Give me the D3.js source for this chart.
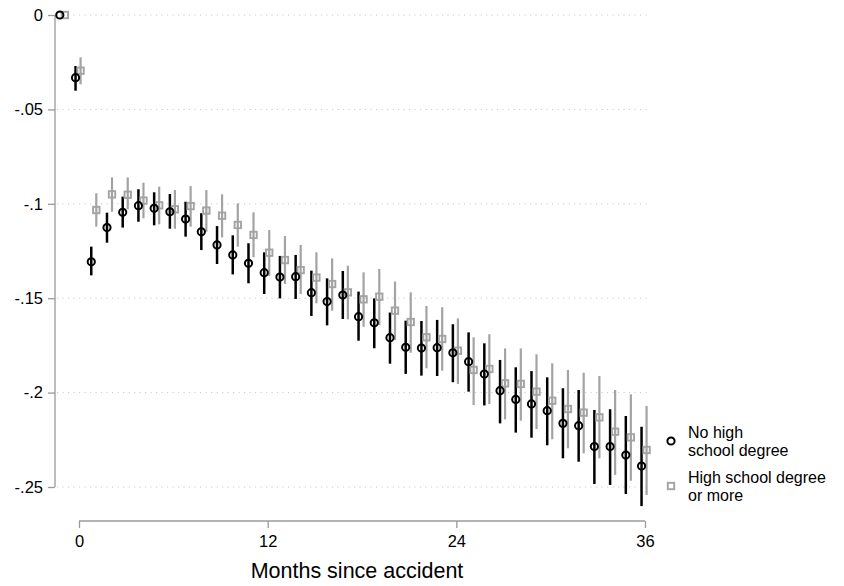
<!DOCTYPE html>
<html><head><meta charset="utf-8">
<script src="https://cdn.jsdelivr.net/npm/d3@7"></script>
<style>
html,body{margin:0;padding:0;background:#fff;}
svg{display:block;font-family:"Liberation Sans",Arial,Helvetica,sans-serif;}
</style></head>
<body>
<svg id="chart" width="844" height="586"></svg>
<script>
const months = [-1,0,1,2,3,4,5,6,7,8,9,10,11,12,13,14,15,16,17,18,19,20,21,22,23,24,25,26,27,28,29,30,31,32,33,34,35,36];

const noHS = [0,-0.0332,-0.1307,-0.1126,-0.1045,-0.1010,-0.1024,-0.1042,-0.1081,-0.1148,-0.1218,-0.1271,-0.1315,-0.1365,-0.1388,-0.1386,-0.1471,-0.1518,-0.1483,-0.1598,-0.1630,-0.1709,-0.1760,-0.1764,-0.1762,-0.1789,-0.1836,-0.1902,-0.1990,-0.2036,-0.2060,-0.2096,-0.2163,-0.2175,-0.2286,-0.2286,-0.2331,-0.2389];
const noHSUpper = [0,-0.0270,-0.1227,-0.1047,-0.0962,-0.0923,-0.0939,-0.0948,-0.0989,-0.1050,-0.1118,-0.1167,-0.1209,-0.1257,-0.1276,-0.1271,-0.1354,-0.1395,-0.1356,-0.1465,-0.1501,-0.1576,-0.1619,-0.1621,-0.1615,-0.1638,-0.1681,-0.1739,-0.1827,-0.1866,-0.1886,-0.1919,-0.1977,-0.1986,-0.2092,-0.2088,-0.2124,-0.2181];
const noHSLower = [0,-0.0401,-0.1379,-0.1206,-0.1126,-0.1095,-0.1114,-0.1132,-0.1174,-0.1245,-0.1319,-0.1374,-0.1421,-0.1478,-0.1501,-0.1504,-0.1594,-0.1644,-0.1610,-0.1725,-0.1765,-0.1847,-0.1901,-0.1910,-0.1912,-0.1945,-0.1995,-0.2068,-0.2163,-0.2212,-0.2239,-0.2279,-0.2348,-0.2366,-0.2484,-0.2489,-0.2537,-0.2601];

const hs = [0,-0.0295,-0.1033,-0.0950,-0.0952,-0.0983,-0.1008,-0.1029,-0.1012,-0.1036,-0.1063,-0.1112,-0.1165,-0.1259,-0.1298,-0.1351,-0.1391,-0.1425,-0.1469,-0.1506,-0.1492,-0.1566,-0.1626,-0.1707,-0.1716,-0.1778,-0.1880,-0.1875,-0.1951,-0.1954,-0.1995,-0.2043,-0.2087,-0.2106,-0.2131,-0.2207,-0.2237,-0.2304];
const hsUpper = [0,-0.0224,-0.0944,-0.0860,-0.0860,-0.0888,-0.0909,-0.0927,-0.0906,-0.0927,-0.0950,-0.0998,-0.1045,-0.1139,-0.1171,-0.1218,-0.1257,-0.1289,-0.1328,-0.1363,-0.1345,-0.1412,-0.1469,-0.1541,-0.1548,-0.1607,-0.1707,-0.1691,-0.1766,-0.1766,-0.1797,-0.1845,-0.1880,-0.1895,-0.1912,-0.1986,-0.2009,-0.2071];
const hsLower = [0,-0.0367,-0.1121,-0.1042,-0.1029,-0.1077,-0.1109,-0.1132,-0.1121,-0.1148,-0.1178,-0.1227,-0.1283,-0.1382,-0.1425,-0.1478,-0.1527,-0.1566,-0.1612,-0.1651,-0.1642,-0.1721,-0.1789,-0.1871,-0.1884,-0.1954,-0.2066,-0.2060,-0.2142,-0.2149,-0.2193,-0.2247,-0.2295,-0.2322,-0.2348,-0.2436,-0.2467,-0.2542];

const xTicks = [0,12,24,36];
const yTicks = [0,-0.05,-0.1,-0.15,-0.2,-0.25];
const yTickLabels = ["0","-.05","-.1","-.15","-.2","-.25"];
const legendLabels = [["No high","school degree"],["High school degree","or more"]];
const xTitle = "Months since accident";

const svg = d3.select("#chart");
const x = d3.scaleLinear().domain([0,36]).range([79,645]);
const y = d3.scaleLinear().domain([0,-0.25]).range([15,487]);
const offNo = -0.22, offHs = 0.1;
const black = "#000", gray = "#a3a3a3", axisCol = "#9a9a9a";

// gridlines
svg.append("g").selectAll("line").data(yTicks).join("line")
  .attr("x1",57).attr("x2",650)
  .attr("y1",d=>y(d)).attr("y2",d=>y(d))
  .attr("stroke","#c8c8c8").attr("stroke-width",1).attr("stroke-dasharray","1.2,4.3");

// y axis
const yAxis = d3.axisLeft(y).tickValues(yTicks).tickSize(7).tickPadding(5)
  .tickFormat((d,i)=>yTickLabels[i]);
const gy = svg.append("g").attr("transform","translate(55,0)").call(yAxis);
gy.select(".domain").attr("stroke",axisCol).attr("stroke-width",1.3).attr("d","M0,"+y(0)+"V"+y(-0.25));
gy.selectAll(".tick line").attr("stroke",axisCol).attr("stroke-width",1.3);
gy.selectAll(".tick text").attr("font-size",16.5).attr("fill","#000").attr("font-family","Liberation Sans, Arial, sans-serif");

// x axis
const xAxis = d3.axisBottom(x).tickValues(xTicks).tickSize(7).tickPadding(7).tickFormat(d3.format("d"));
const gx = svg.append("g").attr("transform","translate(0,521)").call(xAxis);
gx.select(".domain").attr("stroke",axisCol).attr("stroke-width",1.3).attr("d","M"+x(0)+",0H"+x(36));
gx.selectAll(".tick line").attr("stroke",axisCol).attr("stroke-width",1.3);
gx.selectAll(".tick text").attr("font-size",16.5).attr("fill","#000").attr("font-family","Liberation Sans, Arial, sans-serif");

svg.append("text").attr("x",357).attr("y",578).attr("text-anchor","middle")
  .attr("font-size",21.5).attr("fill","#000").text(xTitle);

const idx = d3.range(months.length);
// error bars
svg.append("g").selectAll("line").data(idx).join("line")
  .attr("x1",i=>x(months[i]+offHs)).attr("x2",i=>x(months[i]+offHs))
  .attr("y1",i=>y(hsUpper[i])).attr("y2",i=>y(hsLower[i]))
  .attr("stroke",gray).attr("stroke-width",2.2);
svg.append("g").selectAll("line").data(idx).join("line")
  .attr("x1",i=>x(months[i]+offNo)).attr("x2",i=>x(months[i]+offNo))
  .attr("y1",i=>y(noHSUpper[i])).attr("y2",i=>y(noHSLower[i]))
  .attr("stroke",black).attr("stroke-width",2.5);

// markers
svg.append("g").selectAll("rect").data(idx).join("rect")
  .attr("x",i=>x(months[i]+offHs)-3.2).attr("y",i=>y(hs[i])-3.2)
  .attr("width",6.4).attr("height",6.4)
  .attr("fill","none").attr("stroke",gray).attr("stroke-width",1.9);
svg.append("g").selectAll("circle").data(idx).join("circle")
  .attr("cx",i=>x(months[i]+offNo)).attr("cy",i=>y(noHS[i])).attr("r",3.6)
  .attr("fill","none").attr("stroke",black).attr("stroke-width",2);

// legend
const lg = svg.append("g");
lg.append("circle").attr("cx",671).attr("cy",441).attr("r",3.6)
  .attr("fill","none").attr("stroke",black).attr("stroke-width",2);
lg.append("rect").attr("x",671-3.2).attr("y",486-3.2).attr("width",6.4).attr("height",6.4)
  .attr("fill","none").attr("stroke",gray).attr("stroke-width",1.9);
const legY = [[432.5,450],[477.5,495]];
legendLabels.forEach((lines,k)=>{
  lines.forEach((t,j)=>{
    lg.append("text").attr("x",688).attr("y",legY[k][j]).attr("dy","0.35em")
      .attr("font-size",16).attr("fill","#000").text(t);
  });
});
</script>
</body></html>
